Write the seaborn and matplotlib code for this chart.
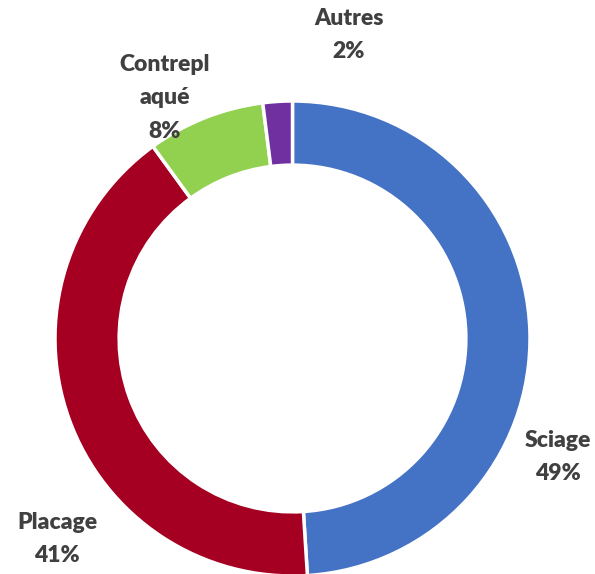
import matplotlib
matplotlib.use("Agg")
import matplotlib.pyplot as plt
import seaborn as sns

categories = ["Sciage", "Placage", "Contreplaqué", "Autres"]
values = [49, 41, 8, 2]
label_texts = ["Sciage\n49%", "Placage\n41%", "Contrepl\naqué\n8%", "Autres\n2%"]
colors = ["#4472C4", "#A50021", "#92D050", "#7030A0"]

sns.set_theme(style="white")
plt.rcParams['font.family'] = ['Lato', 'DejaVu Sans']

W, H = 595, 574
fig = plt.figure(figsize=(W / 100, H / 100), dpi=100)
ax = fig.add_axes([0, 0, 1, 1])

cx, cy, r = 292.5, H - 338.5, 237.5
ax.pie(values, colors=colors, startangle=90, counterclock=False,
       center=(cx, cy), radius=r, frame=True,
       wedgeprops=dict(width=r * 0.27, edgecolor="white", linewidth=2.5))
ax.set_xlim(0, W)
ax.set_ylim(0, H)
ax.set_aspect("equal")
ax.axis("off")

label_pos = [(558, 457), (57, 539), (165, 98), (349, 35)]
for txt, (x, y) in zip(label_texts, label_pos):
    ax.text(x, H - y, txt, ha="center", va="center", fontsize=16.5,
            fontweight="heavy", color="#404040", linespacing=1.75)

fig.savefig("out.png", dpi=100)
